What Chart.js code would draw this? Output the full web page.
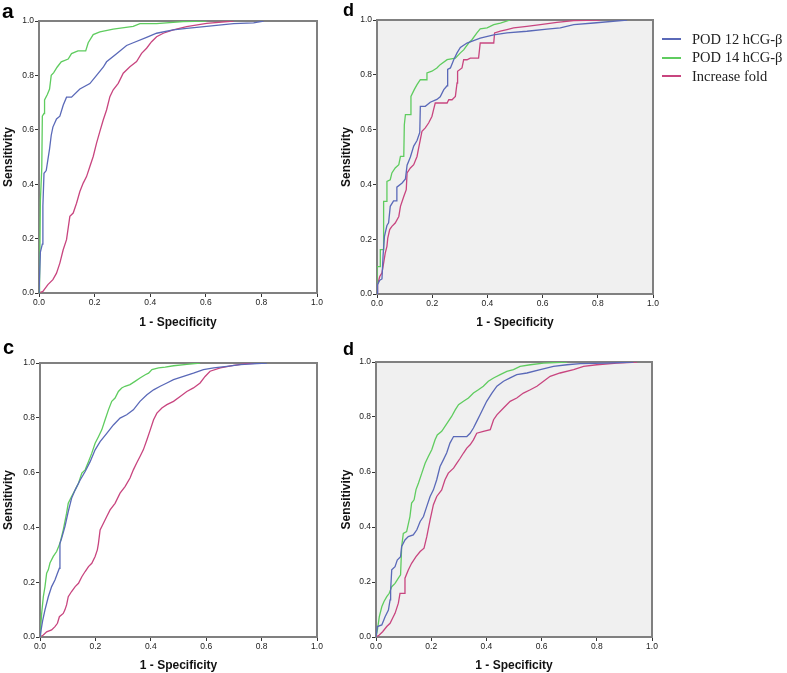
<!DOCTYPE html>
<html>
<head>
<meta charset="utf-8">
<script src="https://cdn.jsdelivr.net/npm/chart.js@4.4.0/dist/chart.umd.min.js"></script>
<style>
  body { margin: 0; background: #fff; }
  #page { position: relative; width: 787px; height: 673px; overflow: hidden; background: #fff; }
  .panel { position: absolute; }
  .tag { position: absolute; font-family: "Liberation Sans", Arial, sans-serif; font-weight: bold; color: #000; line-height: 1; }
  #legend { position: absolute; left: 662px; top: 30px; font-family: "Liberation Serif", "Times New Roman", serif; font-size: 14.5px; color: #222; }
  #legend div { height: 18.5px; white-space: nowrap; display: flex; align-items: center; }
  #legend span.sw { display: inline-block; width: 19px; height: 2px; margin-right: 11px; }
</style>
</head>
<body>
<div id="page">
  <canvas id="cA" class="panel"></canvas>
  <canvas id="cB" class="panel"></canvas>
  <canvas id="cC" class="panel"></canvas>
  <canvas id="cD" class="panel"></canvas>
  <div class="tag" style="left:2px;top:0px;font-size:21px">a</div>
  <div class="tag" style="left:343px;top:1px;font-size:18px">d</div>
  <div class="tag" style="left:3px;top:337px;font-size:20px">c</div>
  <div class="tag" style="left:343px;top:340px;font-size:18px">d</div>
  <div id="legend"></div>
</div>
<script>
var seriesNames = ['POD 12 hCG-β', 'POD 14 hCG-β', 'Increase fold'];
var seriesColors = ['#5a69b8', '#5fcc5f', '#c8457f'];
var tickValues = [0, 0.2, 0.4, 0.6, 0.8, 1.0];

// panel a
var aBlue = [[0,0],[0.005,0.15],[0.012,0.18],[0.014,0.32],[0.018,0.44],[0.026,0.45],[0.032,0.49],[0.038,0.53],[0.044,0.58],[0.05,0.61],[0.063,0.64],[0.075,0.65],[0.087,0.69],[0.099,0.72],[0.117,0.72],[0.147,0.75],[0.183,0.77],[0.207,0.80],[0.231,0.83],[0.243,0.85],[0.279,0.88],[0.315,0.91],[0.339,0.92],[0.387,0.94],[0.423,0.955],[0.483,0.967],[0.531,0.973],[0.603,0.98],[0.7,0.99],[0.772,0.993],[0.808,1]];
var aGreen = [[0,0],[0.002,0.027],[0.005,0.34],[0.01,0.46],[0.012,0.65],[0.018,0.66],[0.02,0.71],[0.03,0.73],[0.038,0.75],[0.044,0.80],[0.053,0.81],[0.065,0.83],[0.08,0.85],[0.105,0.86],[0.117,0.88],[0.14,0.89],[0.168,0.89],[0.177,0.92],[0.195,0.95],[0.219,0.96],[0.267,0.97],[0.339,0.98],[0.363,0.99],[0.423,0.99],[0.519,0.998],[0.603,1]];
var aPink = [[0,0],[0.014,0.006],[0.032,0.031],[0.05,0.049],[0.063,0.073],[0.075,0.11],[0.087,0.159],[0.099,0.196],[0.111,0.282],[0.123,0.294],[0.135,0.33],[0.147,0.373],[0.159,0.404],[0.171,0.428],[0.183,0.465],[0.195,0.502],[0.207,0.551],[0.219,0.594],[0.231,0.636],[0.243,0.673],[0.255,0.722],[0.267,0.747],[0.285,0.771],[0.303,0.808],[0.327,0.832],[0.351,0.851],[0.369,0.881],[0.387,0.9],[0.405,0.924],[0.423,0.942],[0.447,0.955],[0.483,0.967],[0.531,0.979],[0.603,0.991],[0.7,1]];

// panel b (top right)
var bBlue = [[0,0],[0.002,0.034],[0.01,0.05],[0.018,0.055],[0.022,0.14],[0.027,0.21],[0.036,0.25],[0.042,0.26],[0.048,0.32],[0.06,0.34],[0.07,0.34],[0.072,0.39],[0.091,0.405],[0.103,0.42],[0.109,0.47],[0.121,0.5],[0.133,0.54],[0.145,0.56],[0.155,0.59],[0.157,0.685],[0.175,0.685],[0.193,0.70],[0.217,0.71],[0.229,0.72],[0.242,0.746],[0.254,0.76],[0.256,0.82],[0.266,0.825],[0.278,0.855],[0.29,0.88],[0.302,0.90],[0.326,0.916],[0.374,0.934],[0.423,0.946],[0.471,0.953],[0.543,0.959],[0.616,0.967],[0.664,0.971],[0.713,0.983],[0.785,0.989],[0.906,1]];
var bGreen = [[0,0],[0,0.1],[0.012,0.1],[0.012,0.162],[0.022,0.162],[0.024,0.338],[0.034,0.338],[0.036,0.411],[0.048,0.417],[0.054,0.442],[0.066,0.46],[0.079,0.472],[0.085,0.502],[0.097,0.502],[0.099,0.618],[0.103,0.655],[0.121,0.655],[0.123,0.721],[0.135,0.746],[0.145,0.764],[0.157,0.782],[0.179,0.782],[0.181,0.807],[0.199,0.813],[0.217,0.825],[0.229,0.837],[0.254,0.855],[0.284,0.861],[0.302,0.88],[0.314,0.891],[0.332,0.916],[0.344,0.928],[0.362,0.953],[0.374,0.968],[0.399,0.971],[0.423,0.983],[0.447,0.989],[0.483,1]];
var bPink = [[0,0],[0.002,0.034],[0.01,0.064],[0.018,0.077],[0.024,0.113],[0.03,0.15],[0.036,0.174],[0.039,0.204],[0.046,0.235],[0.054,0.247],[0.066,0.259],[0.079,0.283],[0.085,0.32],[0.097,0.356],[0.106,0.381],[0.109,0.442],[0.121,0.46],[0.133,0.472],[0.145,0.502],[0.151,0.533],[0.157,0.563],[0.163,0.594],[0.175,0.606],[0.187,0.624],[0.199,0.648],[0.205,0.673],[0.211,0.697],[0.254,0.697],[0.26,0.709],[0.272,0.709],[0.284,0.721],[0.29,0.77],[0.292,0.813],[0.308,0.825],[0.314,0.855],[0.326,0.855],[0.338,0.861],[0.368,0.861],[0.374,0.916],[0.423,0.916],[0.426,0.953],[0.447,0.959],[0.471,0.965],[0.495,0.971],[0.543,0.977],[0.592,0.983],[0.652,0.991],[0.713,0.998],[0.809,1]];

// panel c
var cBlue = [[0,0],[0.004,0.026],[0.01,0.062],[0.018,0.099],[0.03,0.147],[0.042,0.184],[0.054,0.208],[0.063,0.233],[0.07,0.251],[0.072,0.342],[0.078,0.36],[0.09,0.403],[0.102,0.458],[0.114,0.506],[0.127,0.537],[0.145,0.573],[0.163,0.604],[0.181,0.64],[0.199,0.683],[0.217,0.713],[0.241,0.743],[0.265,0.774],[0.289,0.799],[0.313,0.811],[0.337,0.829],[0.361,0.86],[0.386,0.884],[0.41,0.902],[0.434,0.915],[0.458,0.927],[0.482,0.939],[0.518,0.951],[0.554,0.963],[0.59,0.976],[0.627,0.982],[0.675,0.988],[0.723,0.994],[0.783,0.998],[0.819,1]];
var cGreen = [[0,0],[0.002,0.026],[0.006,0.086],[0.012,0.147],[0.018,0.184],[0.024,0.233],[0.03,0.245],[0.036,0.27],[0.048,0.294],[0.06,0.312],[0.072,0.342],[0.084,0.391],[0.096,0.452],[0.102,0.488],[0.114,0.513],[0.127,0.537],[0.139,0.561],[0.151,0.598],[0.163,0.61],[0.175,0.64],[0.187,0.671],[0.199,0.707],[0.211,0.731],[0.223,0.756],[0.235,0.793],[0.247,0.829],[0.259,0.86],[0.271,0.872],[0.283,0.896],[0.295,0.909],[0.307,0.915],[0.325,0.921],[0.343,0.933],[0.361,0.945],[0.38,0.957],[0.392,0.963],[0.404,0.976],[0.428,0.982],[0.452,0.985],[0.482,0.99],[0.53,0.995],[0.578,1]];
var cPink = [[0,0],[0.012,0.007],[0.024,0.019],[0.042,0.026],[0.054,0.038],[0.063,0.05],[0.07,0.074],[0.084,0.086],[0.09,0.099],[0.096,0.117],[0.102,0.147],[0.114,0.166],[0.127,0.184],[0.139,0.196],[0.151,0.22],[0.163,0.239],[0.175,0.257],[0.187,0.269],[0.199,0.294],[0.207,0.318],[0.211,0.342],[0.217,0.391],[0.229,0.415],[0.241,0.44],[0.253,0.464],[0.271,0.488],[0.289,0.525],[0.307,0.549],[0.325,0.58],[0.337,0.61],[0.349,0.635],[0.361,0.659],[0.373,0.683],[0.386,0.72],[0.398,0.756],[0.41,0.793],[0.422,0.817],[0.44,0.836],[0.458,0.848],[0.482,0.86],[0.506,0.878],[0.53,0.896],[0.554,0.909],[0.578,0.927],[0.596,0.951],[0.614,0.97],[0.651,0.982],[0.699,0.991],[0.747,0.998],[0.807,1]];

// panel d (bottom right)
var dBlue = [[0,0],[0.005,0.038],[0.021,0.044],[0.033,0.074],[0.045,0.098],[0.051,0.135],[0.053,0.171],[0.057,0.244],[0.069,0.256],[0.077,0.28],[0.089,0.292],[0.093,0.329],[0.105,0.353],[0.117,0.365],[0.135,0.371],[0.148,0.39],[0.16,0.42],[0.172,0.438],[0.184,0.475],[0.196,0.511],[0.208,0.535],[0.22,0.572],[0.232,0.62],[0.244,0.644],[0.256,0.669],[0.268,0.705],[0.281,0.729],[0.329,0.729],[0.341,0.741],[0.353,0.76],[0.365,0.784],[0.377,0.808],[0.389,0.833],[0.401,0.857],[0.42,0.887],[0.438,0.912],[0.462,0.93],[0.486,0.942],[0.51,0.954],[0.547,0.96],[0.595,0.972],[0.643,0.984],[0.692,0.99],[0.74,0.994],[0.837,0.996],[0.933,1]];
var dGreen = [[0,0],[0.005,0.025],[0.012,0.074],[0.021,0.11],[0.029,0.129],[0.039,0.147],[0.048,0.159],[0.057,0.183],[0.069,0.195],[0.081,0.214],[0.089,0.226],[0.093,0.329],[0.099,0.377],[0.111,0.383],[0.123,0.438],[0.129,0.487],[0.138,0.499],[0.145,0.536],[0.154,0.56],[0.166,0.596],[0.178,0.632],[0.19,0.657],[0.202,0.681],[0.214,0.717],[0.222,0.735],[0.238,0.748],[0.25,0.766],[0.262,0.784],[0.274,0.802],[0.287,0.826],[0.299,0.845],[0.317,0.857],[0.335,0.869],[0.353,0.887],[0.371,0.899],[0.389,0.912],[0.407,0.93],[0.426,0.942],[0.45,0.954],[0.474,0.966],[0.498,0.972],[0.522,0.984],[0.559,0.99],[0.607,0.996],[0.692,1]];
var dPink = [[0,0],[0.012,0.007],[0.024,0.019],[0.039,0.038],[0.051,0.05],[0.06,0.068],[0.069,0.086],[0.081,0.123],[0.087,0.159],[0.102,0.159],[0.105,0.214],[0.117,0.244],[0.129,0.268],[0.145,0.292],[0.16,0.311],[0.174,0.323],[0.184,0.365],[0.196,0.426],[0.208,0.481],[0.22,0.511],[0.238,0.535],[0.25,0.572],[0.262,0.596],[0.281,0.614],[0.293,0.632],[0.305,0.65],[0.317,0.669],[0.329,0.687],[0.341,0.699],[0.353,0.717],[0.365,0.741],[0.389,0.748],[0.414,0.754],[0.426,0.79],[0.438,0.808],[0.462,0.833],[0.486,0.857],[0.51,0.869],[0.534,0.887],[0.559,0.899],[0.583,0.912],[0.607,0.93],[0.631,0.948],[0.667,0.96],[0.716,0.972],[0.752,0.984],[0.8,0.99],[0.873,0.996],[0.946,1]];

// background + frame round the plot area
var framePlugin = {
  id: 'frame',
  beforeDraw: function(chart) {
    var a = chart.chartArea, ctx = chart.ctx;
    if (chart.options.plugins.frame.fill) {
      ctx.save();
      ctx.fillStyle = chart.options.plugins.frame.fill;
      ctx.fillRect(a.left, a.top, a.right - a.left, a.bottom - a.top);
      ctx.restore();
    }
  },
  beforeDatasetsDraw: function(chart) {
    var a = chart.chartArea, ctx = chart.ctx;
    ctx.save();
    ctx.strokeStyle = '#808080';
    ctx.lineWidth = 2;
    ctx.strokeRect(a.left, a.top, a.right - a.left, a.bottom - a.top);
    ctx.restore();
  }
};

function toPts(arr) {
  return arr.map(function(p) { return {x: p[0], y: p[1]}; });
}

function makePanel(id, box, area, lines, fill) {
  var cv = document.getElementById(id);
  cv.style.left = box[0] + 'px';
  cv.style.top = box[1] + 'px';
  cv.style.width = box[2] + 'px';
  cv.style.height = box[3] + 'px';
  var yW = area[0], padT = area[1], padR = box[2] - area[2], xH = box[3] - area[3];
  var tickFont = {family: '"Liberation Sans", Arial, sans-serif', size: 8.5};
  var titleFont = {family: '"Liberation Sans", Arial, sans-serif', size: 12, weight: 'bold'};
  new Chart(cv, {
    type: 'line',
    data: {
      datasets: lines.map(function(l, i) {
        return {
          label: seriesNames[i],
          data: toPts(l),
          borderColor: seriesColors[i],
          borderWidth: 1.3,
          pointRadius: 0,
          tension: 0,
          fill: false
        };
      })
    },
    options: {
      responsive: false,
      animation: false,
      events: [],
      layout: {padding: {top: padT, right: padR, left: 0, bottom: 0}},
      plugins: {legend: {display: false}, tooltip: {enabled: false}, frame: {fill: fill}},
      scales: {
        x: {
          type: 'linear', min: 0, max: 1,
          afterBuildTicks: function(s) { s.ticks = tickValues.map(function(v) { return {value: v}; }); },
          afterFit: function(s) { s.height = xH; },
          ticks: {font: tickFont, color: '#222', padding: 1, maxRotation: 0, callback: function(v) { return v.toFixed(1); }},
          grid: {drawOnChartArea: false, tickLength: 4, color: '#333'},
          border: {display: false},
          title: {display: true, text: '1 - Specificity', font: titleFont, color: '#111', padding: {top: 0, bottom: 0}}
        },
        y: {
          type: 'linear', min: 0, max: 1,
          afterBuildTicks: function(s) { s.ticks = tickValues.map(function(v) { return {value: v}; }); },
          afterFit: function(s) { s.width = yW; },
          ticks: {font: tickFont, color: '#222', padding: 1, callback: function(v) { return v.toFixed(1); }},
          grid: {drawOnChartArea: false, tickLength: 4, color: '#333'},
          border: {display: false},
          title: {display: true, text: 'Sensitivity', font: titleFont, color: '#111', padding: {top: 1, bottom: 0}}
        }
      }
    },
    plugins: [framePlugin]
  });
}

// box: canvas left, top, width, height; area: plot left, top, right, bottom inside canvas
makePanel('cA', [0, 0, 330, 330], [39, 21, 317, 293], [aBlue, aGreen, aPink], null);
makePanel('cB', [338, 0, 330, 330], [39, 20, 315, 294], [bBlue, bGreen, bPink], '#f0f0f0');
makePanel('cC', [0, 330, 330, 343], [40, 33, 317, 307], [cBlue, cGreen, cPink], null);
makePanel('cD', [338, 330, 330, 343], [38, 32, 314, 307], [dBlue, dGreen, dPink], '#f0f0f0');

var legend = document.getElementById('legend');
seriesNames.forEach(function(name, i) {
  var row = document.createElement('div');
  var sw = document.createElement('span');
  sw.className = 'sw';
  sw.style.background = seriesColors[i];
  row.appendChild(sw);
  row.appendChild(document.createTextNode(name));
  legend.appendChild(row);
});
</script>
</body>
</html>
